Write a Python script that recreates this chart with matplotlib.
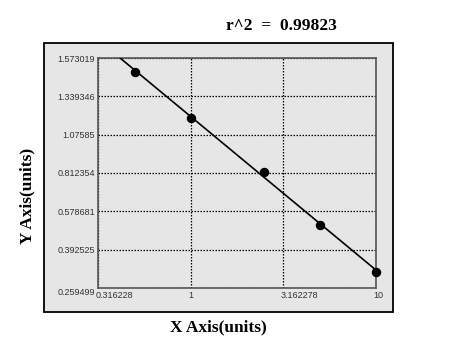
import numpy as np
from matplotlib import pyplot as plt
from matplotlib.patches import Rectangle
from matplotlib.transforms import ScaledTranslation

# data
x_pts = [0.5, 1.0, 2.5, 5.0, 10.0]
y_pts = [1.488, 1.187, 0.818, 0.514, 0.316]
fit_x = [0.416, 10.0]
fit_y = [1.573019, 0.3217]

x_ticks = [0.316228, 1, 3.162278, 10]
x_labels = ["0.316228", "1", "3.162278", "10"]
y_ticks = [0.259499, 0.392525, 0.578681, 0.812354, 1.07585, 1.339346, 1.573019]
y_labels = ["0.259499", "0.392525", "0.578681", "0.812354", "1.07585", "1.339346", "1.573019"]
r2_text = "r^2  =  0.99823"

bg = "#e6e6e6"
tick_font = dict(family="Liberation Sans", size=6.5, color="#333333")
lab_font = dict(family="Liberation Serif", weight="bold", size=12.5, color="black")

# y axis: tick values evenly spaced
y_pos = np.arange(len(y_ticks))
def fwd(v):
    return np.interp(v, y_ticks, y_pos)
def inv(p):
    return np.interp(p, y_pos, y_ticks)

fig = plt.figure(figsize=(4.55, 3.42), dpi=100)
fig.patch.set_facecolor("white")
fig.patches.append(Rectangle((44/455, 1-312/342), 349/455, 269/342, transform=fig.transFigure,
                             facecolor=bg, edgecolor="black", lw=1.3, zorder=-5))

ax = fig.add_axes([98/455, 1-288/342, 278/455, 230/342])
ax.set_zorder(2)
ax.set_facecolor(bg)
ax.set_xscale("log")
ax.set_yscale("function", functions=(fwd, inv))
ax.set_xlim(x_ticks[0], x_ticks[-1])
ax.set_ylim(y_ticks[0], y_ticks[-1])

ax.plot(fit_x, fit_y, color="black", lw=1.2, zorder=3)
ax.plot(x_pts, y_pts, "o", color="black", ms=5.8, zorder=4, clip_on=False)

ax.set_xticks(x_ticks, labels=x_labels)
ax.set_yticks(y_ticks, labels=y_labels)
ax.minorticks_off()
ax.tick_params(length=0, pad=2)
shift = ScaledTranslation(-0.025, 0, fig.dpi_scale_trans)
for lb in ax.get_xticklabels():
    lb.set(**tick_font)
    lb.set_ha("left")
    lb.set_transform(lb.get_transform() + shift)
for lb in ax.get_yticklabels():
    lb.set(**tick_font)
ax.get_yticklabels()[0].set_va("top")

ax.grid(True, color="black", ls=(0, (1.2, 1.2)), lw=0.9)
for s in ax.spines.values():
    s.set_color("#555555")
    s.set_linewidth(1.2)

fig.text(281/455, 1-26/342, r2_text, ha="center", va="center", **lab_font)
fig.text(218/455, 1-327/342, "X Axis(units)", ha="center", va="center", **lab_font)
fig.text(27/455, 1-196/342, "Y Axis(units)", ha="center", va="center", rotation=90, **lab_font)

plt.savefig("out.png", dpi=100)
plt.close()
